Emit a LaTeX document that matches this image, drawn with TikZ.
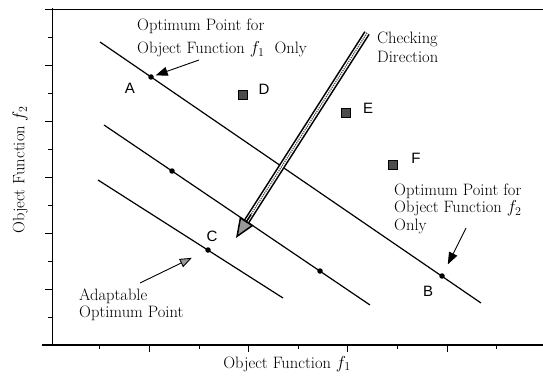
\documentclass[tikz,border=0pt]{standalone}
\usepackage{amsmath}
\usepackage{fontspec}
\usetikzlibrary{arrows.meta,calc}
\newfontfamily\lettersf{Liberation Sans}
\newcommand{\notefont}{\fontsize{16.5}{20}\selectfont}

\begin{document}
\begin{tikzpicture}[x=1pt,y=-1pt,
  ptdot/.style={circle,fill=black,inner sep=0pt,minimum size=5.5pt},
  ptbox/.style={draw=black,fill=black!70,inner sep=0pt,minimum size=9pt,line width=1pt},
  ptname/.style={font=\lettersf\fontsize{15}{15}\selectfont},
  note/.style={align=left,font=\notefont,inner sep=0pt},
  lead/.style={line width=0.9pt,-{Triangle[length=12pt,width=9pt]}}]
  \useasboundingbox (0,0) rectangle (543,385);
  % frame and axes
  \draw[line width=1pt] (45,10) -- (543,10);
  \draw[line width=1pt] (52,8) -- (52,345);
  \draw[line width=1.3pt] (42,345) -- (543,345);
  \foreach \k in {1,3,...,11} \draw (48,{345-28*\k}) -- (52,{345-28*\k});
  \foreach \k in {2,4,...,10} \draw (45,{345-28*\k}) -- (52,{345-28*\k});
  \foreach \k in {1,3,...,9} \draw ({50+49.6*\k},345) -- ({50+49.6*\k},349);
  \foreach \k in {2,4,6,8} \draw ({50+49.6*\k},345) -- ({50+49.6*\k},352);
  \node[note] (xlab) at (287,364) {Object Function $f_1$};
  \node[note,rotate=90] (ylab) at (20,170) {Object Function $f_2$};

  % the three parallel lines
  \coordinate (u1) at (100,42);  \coordinate (u2) at (481,303);
  \coordinate (m1) at (104,125); \coordinate (m2) at (370,305);
  \coordinate (w1) at (98,180);  \coordinate (w2) at (283,298);
  \draw[line width=1.2pt] (u1) -- (u2);
  \draw[line width=1.2pt] (m1) -- (m2);
  \draw[line width=1.2pt] (w1) -- (w2);

  \node[ptdot] (A) at (151,77) {};
  \node[ptdot] (B) at (442,276) {};
  \node[ptdot] (C) at (208,250) {};
  \node[ptdot] (M1) at (172,171) {};
  \node[ptdot] (M2) at (320,271) {};
  \node[ptbox] (D) at (243,95) {};
  \node[ptbox] (E) at (346,113) {};
  \node[ptbox] (F) at (393,165) {};
  \node[ptname] (Alab) at (130,88) {A};
  \node[ptname] (Blab) at (428,291) {B};
  \node[ptname] (Clab) at (212,236) {C};
  \node[ptname] (Dlab) at (264,89) {D};
  \node[ptname] (Elab) at (368,108) {E};
  \node[ptname] (Flab) at (416,158) {F};

  % checking direction
  \coordinate (chktop) at (367,33);
  \coordinate (chktip) at (236,238);
  \draw[line width=1.6pt,double=white,double distance=3.2pt] (chktop) -- ($(chktip)!18pt!(chktop)$);
  \draw[densely dotted,line width=1.2pt,black!70] (chktop) -- ($(chktip)!18pt!(chktop)$);
  \draw[line width=1.5pt,-{Triangle[open,fill=black!40,length=20pt,width=16pt]}]
    ($(chktip)!28pt!(chktop)$) -- (chktip);
  \node[note,anchor=west] (chklab) at (377,47) {Checking\\[-1pt]Direction};

  % notes with leaders
  \node[note,anchor=west] (optA) at (137,38) {Optimum Point for\\[3pt]Object Function $f_1$\ \ Only};
  \coordinate (optAtail) at (199,60);
  \draw[lead,shorten >=2pt] (optAtail) -- (A);
  \node[note,anchor=west] (optB) at (394,209) {Optimum Point for\\[-3pt]Object Function $f_2$\\[-2pt]Only};
  \coordinate (optBtail) at (466,228);
  \draw[lead,shorten >=10pt] (optBtail) -- (B);
  \node[note,anchor=west] (adapt) at (79,305) {Adaptable\\[-3pt]Optimum Point};
  \coordinate (adapttail) at (140,283);
  \draw[line width=0.9pt,-{Triangle[open,fill=black!40,length=12pt,width=9pt]},shorten >=15pt] (adapttail) -- (C);
\end{tikzpicture}
\end{document}
